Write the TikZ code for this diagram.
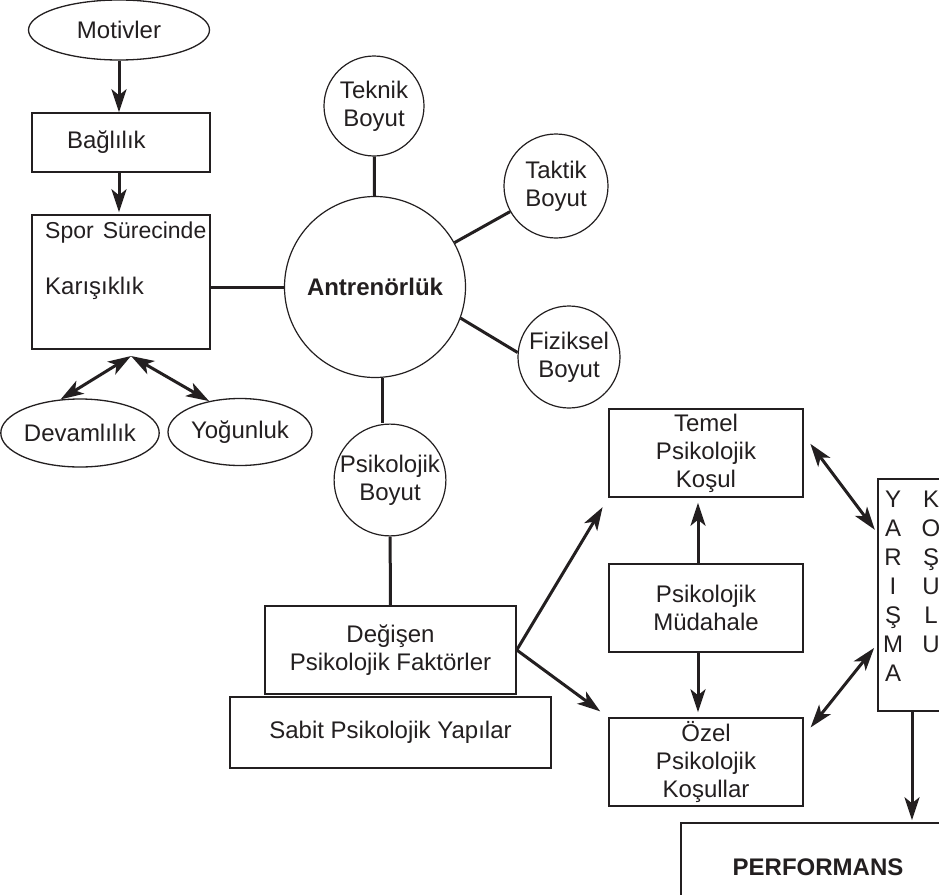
\documentclass[tikz,border=0pt]{standalone}
\usepackage{fontspec}
\setmainfont{Liberation Sans}
\usetikzlibrary{shapes.geometric,arrows.meta}
\definecolor{ink}{RGB}{35,31,32}

\begin{document}
\begin{tikzpicture}[
    x=1pt, y=-1pt,
    every node/.style={font=\fontsize{24}{28}\selectfont, text=ink},
    mybox/.style={draw=ink, line width=1.5pt, rectangle, align=center, inner sep=0pt},
    myoval/.style={draw=ink, line width=1.3pt, ellipse, inner sep=0pt},
    mycircle/.style={draw=ink, line width=1.2pt, circle, align=center, inner sep=0pt},
    myline/.style={draw=ink, line width=3pt},
    myedge/.style={-{Stealth[length=23pt, width=15pt, inset=6pt]}, draw=ink, line width=3pt},
    mytwoway/.style={{Stealth[length=23pt, width=15pt, inset=6pt]}-{Stealth[length=23pt, width=15pt, inset=6pt]}, draw=ink, line width=3pt}
]
\useasboundingbox (0,0) rectangle (939,894);
\fill[white] (0,0) rectangle (939,894);
\clip (0,0) rectangle (939,894);

% left column
\node[myoval, minimum width=181pt, minimum height=60pt] (Mot) at (119,30) {Motivler};
\node[mybox, minimum height=59pt, text width=108pt, inner xsep=35pt, align=left] (Bag) at (121,142.5) {Bağlılık};
\node[mybox, minimum width=178pt, minimum height=134pt] (Spor) at (121,282) {};
\node[anchor=north west, align=left, inner sep=0pt] (SporTxt) at (45,222) {{\fontsize{23}{28}\selectfont Spor\hspace{9pt}Sürecinde}\\[28pt]Karışıklık};
\node[myoval, minimum width=144pt, minimum height=68pt] (Dev) at (80,433) {Devamlılık};
\node[myoval, minimum width=144pt, minimum height=67pt] (Yog) at (240,432) {Yoğunluk};
\coordinate (SporBot) at (131,356);

% coaching and its dimensions
\node[mycircle, minimum size=181pt, font=\fontsize{24}{28}\selectfont\bfseries] (Antr) at (375,287) {Antrenörlük};
\node[mycircle, minimum size=100pt] (Tek) at (374,106) {Teknik\\Boyut};
\node[mycircle, minimum size=104pt] (Tak) at (556,186) {Taktik\\Boyut};
\node[mycircle, minimum size=102pt] (Fiz) at (569,357) {Fiziksel\\Boyut};
\node[mycircle, minimum size=106pt] (Psi) at (390,480) {Psikolojik\\Boyut};

% psychological factors
\node[mybox, minimum width=251pt, minimum height=88pt] (Deg) at (390.5,650) {Değişen\\Psikolojik Faktörler};
\node[mybox, minimum width=321pt, minimum height=71pt] (Sab) at (390.5,732.5) {Sabit Psikolojik Yapılar};
\node[mybox, minimum width=194pt, minimum height=88pt] (Tem) at (706,453) {Temel\\Psikolojik\\Koşul};
\node[mybox, minimum width=194pt, minimum height=88pt] (Mud) at (706,608) {Psikolojik\\Müdahale};
\node[mybox, minimum width=194pt, minimum height=88pt] (Oz) at (706,762) {Özel\\Psikolojik\\Koşullar};

% competition conditions and performance
\node[mybox, minimum width=68pt, minimum height=232pt] (Yar) at (912,595) {};
\node[anchor=north, align=center, inner sep=0pt, font=\fontsize{24}{29}\selectfont] (YarA) at (893,491) {Y\\A\\R\\I\\Ş\\M\\A};
\node[anchor=north, align=center, inner sep=0pt, font=\fontsize{24}{29}\selectfont] (YarB) at (931,491) {K\\O\\Ş\\U\\L\\U};
\node[mybox, minimum width=274pt, minimum height=88pt, font=\fontsize{24}{28}\selectfont\bfseries] (Perf) at (818,867) {PERFORMANS};

% connectors
\draw[myedge] (Mot.south) -- (Mot.south |- Bag.north);
\draw[myedge, shorten >=2pt] (Mot.south |- Bag.south) -- (Mot.south |- Spor.north);
\draw[myline] (Spor.east |- Antr.west) -- (Antr.west);
\draw[mytwoway] (SporBot) -- (Dev.120);
\draw[mytwoway] (SporBot) -- (Yog.135);

\draw[myline] (Tek) -- (Antr);
\draw[myline] (Antr) -- (Tak);
\draw[myline] (Antr.-20) -- (Fiz.175);
\draw[myline] (Antr.-85) -- (Antr.-85 |- Psi.north);
\draw[myline] (Psi) -- (Deg);

\draw[myedge, shorten >=11pt] (Deg.east) -- (Tem.south west);
\draw[myedge, shorten >=10pt] (Deg.east) -- (Oz.north west);
\draw[myedge, shorten >=5pt] ([xshift=-8pt]Mud.north) -- ([xshift=-8pt]Tem.south);
\draw[myedge, shorten >=5pt] ([xshift=-8pt]Mud.south) -- ([xshift=-8pt]Oz.north);

\draw[mytwoway, shorten <=11pt, shorten >=4pt] ([yshift=18pt]Tem.east) -- ([yshift=62pt]Yar.west);
\draw[mytwoway, shorten <=11pt, shorten >=5pt] ([yshift=26pt]Oz.east) -- ([yshift=-49pt]Yar.west);
\draw[myedge, shorten >=2pt] (Yar.south) -- (Yar.south |- Perf.north);
\end{tikzpicture}
\end{document}
